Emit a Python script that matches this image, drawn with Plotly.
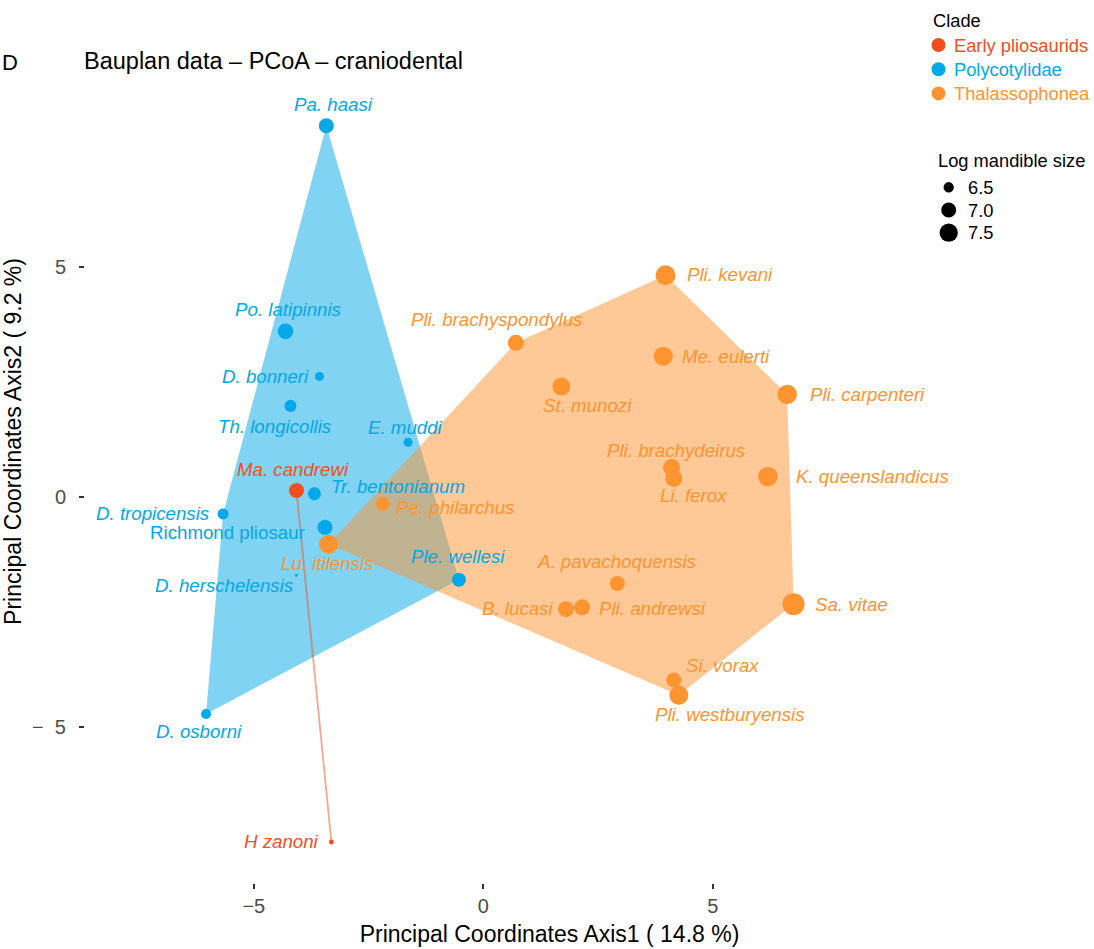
import plotly.graph_objects as go

# ---- data -----------------------------------------------------------------
clades = ["Early pliosaurids", "Polycotylidae", "Thalassophonea"]
clade_colors = ["#F24E1E", "#03A8E8", "#FF9430"]

species = [
    "Ma. candrewi", "H zanoni",
    "Pa. haasi", "Po. latipinnis", "D. bonneri", "Th. longicollis", "E. muddi",
    "Tr. bentonianum", "D. tropicensis", "Richmond pliosaur", "D. herschelensis",
    "Ple. wellesi", "D. osborni",
    "Lu. itilensis", "Pe. philarchus", "Pli. kevani", "Pli. brachyspondylus",
    "Me. eulerti", "St. munozi", "Pli. carpenteri", "Pli. brachydeirus",
    "Li. ferox", "K. queenslandicus", "A. pavachoquensis", "B. lucasi",
    "Pli. andrewsi", "Sa. vitae", "Si. vorax", "Pli. westburyensis",
]
species_clade = [
    "Early pliosaurids", "Early pliosaurids",
    "Polycotylidae", "Polycotylidae", "Polycotylidae", "Polycotylidae", "Polycotylidae",
    "Polycotylidae", "Polycotylidae", "Polycotylidae", "Polycotylidae",
    "Polycotylidae", "Polycotylidae",
    "Thalassophonea", "Thalassophonea", "Thalassophonea", "Thalassophonea",
    "Thalassophonea", "Thalassophonea", "Thalassophonea", "Thalassophonea",
    "Thalassophonea", "Thalassophonea", "Thalassophonea", "Thalassophonea",
    "Thalassophonea", "Thalassophonea", "Thalassophonea", "Thalassophonea",
]
pc1 = [
    -4.07, -3.31,
    -3.42, -4.31, -3.57, -4.20, -1.64,
    -3.68, -5.67, -3.45, -4.07,
    -0.53, -6.04,
    -3.37, -2.19, 3.97, 0.71,
    3.92, 1.70, 6.62, 4.10,
    4.15, 6.20, 2.92, 1.80,
    2.15, 6.76, 4.15, 4.26,
]
pc2 = [
    0.13, -7.51,
    8.06, 3.59, 2.61, 1.97, 1.18,
    0.06, -0.38, -0.67, -1.71,
    -1.81, -4.73,
    -1.04, -0.16, 4.81, 3.34,
    3.05, 2.39, 2.22, 0.63,
    0.39, 0.43, -1.89, -2.45,
    -2.41, -2.34, -3.99, -4.32,
]
log_mandible = [
    7.00, 6.22,
    7.00, 7.07, 6.40, 6.65, 6.40,
    6.75, 6.55, 7.00, 6.20,
    6.87, 6.47,
    7.62, 6.87, 7.80, 7.14,
    7.62, 7.45, 7.71, 7.29,
    7.29, 7.71, 7.00, 7.14,
    7.14, 8.20, 7.00, 7.62,
]
size_breaks = [6.5, 7.0, 7.5]

# label placement: (dx, dy) in screen pixels from the point, dy downwards
label_offset = {
    "Ma. candrewi": (-3, -21), "H zanoni": (-50, 0),
    "Pa. haasi": (7, -21), "Po. latipinnis": (3, -22), "D. bonneri": (-54, 0),
    "Th. longicollis": (-16, 21), "E. muddi": (-3, -15),
    "Tr. bentonianum": (84, -7), "D. tropicensis": (-71, 0),
    "Richmond pliosaur": (-97, 5), "D. herschelensis": (-72, 10),
    "Ple. wellesi": (-1, -23), "D. osborni": (-7, 17),
    "Lu. itilensis": (-2, 19), "Pe. philarchus": (72, 4),
    "Pli. kevani": (64, -1), "Pli. brachyspondylus": (-19, -23),
    "Me. eulerti": (63, 0), "St. munozi": (26, 19),
    "Pli. carpenteri": (80, 0), "Pli. brachydeirus": (5, -17),
    "Li. ferox": (20, 17), "K. queenslandicus": (105, 0),
    "A. pavachoquensis": (-1, -22), "B. lucasi": (-48, -1),
    "Pli. andrewsi": (71, 1), "Sa. vitae": (58, 0),
    "Si. vorax": (49, -15), "Pli. westburyensis": (51, 19),
}
upright_labels = {"Richmond pliosaur"}

# ---- helpers ----------------------------------------------------------------
FONT = "Liberation Sans, Arial, Helvetica, sans-serif"
W, H = 1094, 949
M_L, M_R, M_T, M_B = 85, 80, 0, 66
PLOT_W = W - M_L - M_R
PLOT_H = H - M_T - M_B


def marker_px(v):
    """Point diameter (px) for a log mandible size."""
    t = max(0.0, (v - 6.2) / 2.0)
    return 3 + 19 * t ** 0.5


def rgba(hex_color, a):
    h = hex_color.lstrip("#")
    r, g, b = int(h[0:2], 16), int(h[2:4], 16), int(h[4:6], 16)
    return f"rgba({r},{g},{b},{a})"


def convex_hull(pts):
    pts = sorted(set(pts))
    if len(pts) <= 2:
        return pts

    def cross(o, a, b):
        return (a[0] - o[0]) * (b[1] - o[1]) - (a[1] - o[1]) * (b[0] - o[0])

    lower, upper = [], []
    for p in pts:
        while len(lower) >= 2 and cross(lower[-2], lower[-1], p) <= 0:
            lower.pop()
        lower.append(p)
    for p in reversed(pts):
        while len(upper) >= 2 and cross(upper[-2], upper[-1], p) <= 0:
            upper.pop()
        upper.append(p)
    return lower[:-1] + upper[:-1]


def px_x(px):
    return (px - M_L) / PLOT_W


def px_y(py):
    return (M_T + PLOT_H - py) / PLOT_H


color_of = dict(zip(clades, clade_colors))
fig = go.Figure()

# ---- convex hulls per clade ---------------------------------------------------
segments = []
for clade in clades:
    pts = [(x, y) for x, y, c in zip(pc1, pc2, species_clade) if c == clade]
    hull = convex_hull(pts)
    if len(hull) >= 3:
        hx = [p[0] for p in hull] + [hull[0][0]]
        hy = [p[1] for p in hull] + [hull[0][1]]
        fig.add_trace(go.Scatter(
            x=hx, y=hy, mode="lines", fill="toself",
            fillcolor=rgba(color_of[clade], 0.5),
            line=dict(width=0, color=rgba(color_of[clade], 0)),
            hoverinfo="skip", showlegend=False))
    else:
        segments.append((clade, hull))

for clade, hull in segments:
    fig.add_trace(go.Scatter(
        x=[p[0] for p in hull], y=[p[1] for p in hull], mode="lines",
        line=dict(width=1.8, color=rgba(color_of[clade], 0.5)),
        hoverinfo="skip", showlegend=False))

# ---- points --------------------------------------------------------------------
for clade in clades:
    idx = [i for i, c in enumerate(species_clade) if c == clade]
    fig.add_trace(go.Scatter(
        x=[pc1[i] for i in idx], y=[pc2[i] for i in idx], mode="markers",
        marker=dict(size=[marker_px(log_mandible[i]) for i in idx],
                    color=color_of[clade], line=dict(width=0), opacity=1),
        text=[species[i] for i in idx], name=clade,
        hovertemplate="%{text}<br>PCo1 %{x}<br>PCo2 %{y}<extra></extra>",
        showlegend=False))

annotations = []
for name, x, y, c in zip(species, pc1, pc2, species_clade):
    dx, dy = label_offset[name]
    txt = name if name in upright_labels else f"<i>{name}</i>"
    annotations.append(dict(
        x=x, y=y, xref="x", yref="y", text=txt, showarrow=False,
        xshift=dx, yshift=-dy, xanchor="center", yanchor="middle",
        font=dict(family=FONT, size=18.7, color=color_of[c])))

# ---- legends -------------------------------------------------------------------
shapes = []
annotations.append(dict(
    x=px_x(931), y=px_y(21), xref="paper", yref="paper", text="Clade",
    showarrow=False, xanchor="left", yanchor="middle",
    font=dict(family=FONT, size=18.3, color="black")))
for k, clade in enumerate(clades):
    cy = 45 + 24.2 * k
    shapes.append(dict(
        type="circle", xref="paper", yref="paper",
        xsizemode="pixel", ysizemode="pixel",
        xanchor=px_x(938.5), yanchor=px_y(cy), x0=-7, x1=7, y0=-7, y1=7,
        fillcolor=color_of[clade], line=dict(width=0)))
    annotations.append(dict(
        x=px_x(952), y=px_y(cy), xref="paper", yref="paper", text=clade,
        showarrow=False, xanchor="left", yanchor="middle",
        font=dict(family=FONT, size=18.3, color=color_of[clade])))

annotations.append(dict(
    x=px_x(936), y=px_y(160), xref="paper", yref="paper",
    text="Log mandible size", showarrow=False, xanchor="left", yanchor="middle",
    font=dict(family=FONT, size=18.3, color="black")))
for k, v in enumerate(size_breaks):
    cy = 187.3 + 22.7 * k
    r = marker_px(v) / 2
    shapes.append(dict(
        type="circle", xref="paper", yref="paper",
        xsizemode="pixel", ysizemode="pixel",
        xanchor=px_x(948.7), yanchor=px_y(cy), x0=-r, x1=r, y0=-r, y1=r,
        fillcolor="black", line=dict(width=0)))
    annotations.append(dict(
        x=px_x(966), y=px_y(cy), xref="paper", yref="paper", text=f"{v:.1f}",
        showarrow=False, xanchor="left", yanchor="middle",
        font=dict(family=FONT, size=18.3, color="black")))

# panel tag
annotations.append(dict(
    x=px_x(0), y=px_y(62), xref="paper", yref="paper", text="D",
    showarrow=False, xanchor="left", yanchor="middle",
    font=dict(family=FONT, size=22, color="black")))

# ---- layout --------------------------------------------------------------------
X0, XS = 483.3, 45.9     # pixel of x=0 and pixels per unit
Y0, YS = 496.5, 46.0
x_range = [(M_L - X0) / XS, (W - M_R - X0) / XS]
y_range = [(Y0 - (M_T + PLOT_H)) / YS, (Y0 - M_T) / YS]

fig.update_layout(
    width=W, height=H,
    margin=dict(l=M_L, r=M_R, t=M_T, b=M_B, pad=0),
    paper_bgcolor="white", plot_bgcolor="white",
    font=dict(family=FONT, color="black"),
    showlegend=False,
    title=dict(text="Bauplan data – PCoA – craniodental",
               x=84 / W, xanchor="left", xref="container",
               y=1 - 61 / H, yanchor="middle", yref="container",
               font=dict(family=FONT, size=23.5, color="black")),
    annotations=annotations, shapes=shapes,
    xaxis=dict(range=x_range, showgrid=False, zeroline=False, showline=False,
               ticks="outside", ticklen=5, tickwidth=2, tickcolor="#333333",
               tickvals=[-5, 0, 5], ticktext=["−5", "0", "5"],
               tickfont=dict(family=FONT, size=20, color="#4D4D4D"),
               ticklabelstandoff=0, automargin=False,
               title=dict(text="Principal Coordinates Axis1 ( 14.8 %)",
                          font=dict(family=FONT, size=23, color="black"),
                          standoff=9)),
    yaxis=dict(range=y_range, showgrid=False, zeroline=False, showline=False,
               ticks="outside", ticklen=5, tickwidth=2, tickcolor="#333333",
               tickvals=[-5, 0, 5], ticktext=["−  5", "0", "5"],
               tickfont=dict(family=FONT, size=20, color="#4D4D4D"),
               ticklabelstandoff=9, automargin=False,
               title=dict(text="Principal Coordinates Axis2 ( 9.2 %)",
                          font=dict(family=FONT, size=23, color="black"),
                          standoff=6)),
)

fig.write_html("out.html")
